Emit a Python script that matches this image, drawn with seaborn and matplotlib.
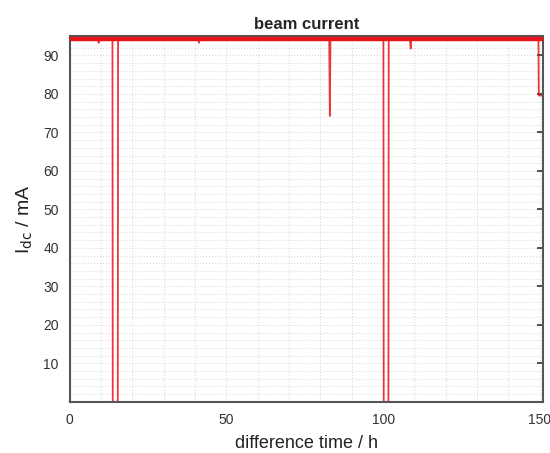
import matplotlib
matplotlib.use("Agg")
import matplotlib.pyplot as plt
from matplotlib.ticker import MultipleLocator
import seaborn as sns
import pandas as pd

# beam current vs difference time
time_h = [0.0, 3.0, 7.0, 9.0, 9.2, 9.4, 12.0, 13.6, 13.7, 15.3, 15.4,
          18.0, 22.0, 26.0, 30.0, 34.0, 38.0, 41.0, 41.2, 41.4, 44.0,
          48.0, 52.0, 56.0, 60.0, 64.0, 68.0, 72.0, 76.0, 80.0, 82.8,
          83.0, 83.2, 86.0, 90.0, 94.0, 98.0, 100.1, 100.2, 101.7, 101.8,
          104.0, 106.5, 108.6, 108.8, 109.0, 112.0, 116.0, 120.0, 124.0,
          128.0, 132.0, 136.0, 140.0, 144.0, 147.0, 149.6, 149.7, 150.6]
current_ma = [94.3, 94.2, 94.3, 94.2, 93.3, 94.2, 94.3, 94.2, 0.0, 0.0, 94.2,
              94.3, 94.2, 94.3, 94.2, 94.3, 94.2, 94.2, 93.3, 94.2, 94.3,
              94.2, 94.3, 94.2, 94.3, 94.2, 94.3, 94.2, 94.3, 94.2, 94.2,
              74.3, 94.2, 94.3, 94.2, 94.3, 94.2, 94.2, 0.0, 0.0, 94.2,
              94.3, 94.2, 94.2, 91.8, 94.2, 94.3, 94.2, 94.3, 94.2,
              94.3, 94.2, 94.3, 94.2, 94.3, 94.2, 94.2, 79.6, 79.6]

x_ticks = [0, 50, 100, 150]
y_ticks = [10, 20, 30, 40, 50, 60, 70, 80, 90]

sns.set_style("white")
plt.rcParams["font.family"] = ["Liberation Sans", "DejaVu Sans"]

df = pd.DataFrame({"t": time_h, "I": current_ma})

fig = plt.figure(figsize=(5.5, 4.53), dpi=100)
ax = fig.add_axes([0.127, 0.113, 0.860, 0.807])

ax.set_xlim(0, 151)
ax.set_ylim(0, 95)
ax.xaxis.set_minor_locator(MultipleLocator(10))
ax.yaxis.set_minor_locator(MultipleLocator(2))
ax.grid(which="both", color="#dcdcdc", linestyle=":", linewidth=0.8)
ax.set_axisbelow(True)

sns.lineplot(data=df, x="t", y="I", ax=ax, sort=False, estimator=None,
             color="#e8141c", linewidth=1.3, alpha=0.85)
# the nominal-current band looks thick at the top
ax.axhline(94.4, color="#e8141c", linewidth=3.2, zorder=3)

ax.set_xticks(x_ticks)
ax.set_yticks(y_ticks)
ax.tick_params(axis="both", which="major", direction="in", length=4,
               width=1.2, color="#333333", labelsize=10, labelcolor="#333333",
               right=True, pad=8)
ax.tick_params(which="minor", length=0)

for s in ax.spines.values():
    s.set_color("#555555")
    s.set_linewidth(1.5)

ax.set_xlabel("difference time / h", fontsize=13, color="#222222", labelpad=6)
ax.set_ylabel("I$_{\\mathrm{dc}}$ / mA", fontsize=14, color="#222222", labelpad=6)
ax.set_title("beam current", fontsize=12, fontweight="bold", pad=5)

fig.savefig("out.png", dpi=100, facecolor="white")
